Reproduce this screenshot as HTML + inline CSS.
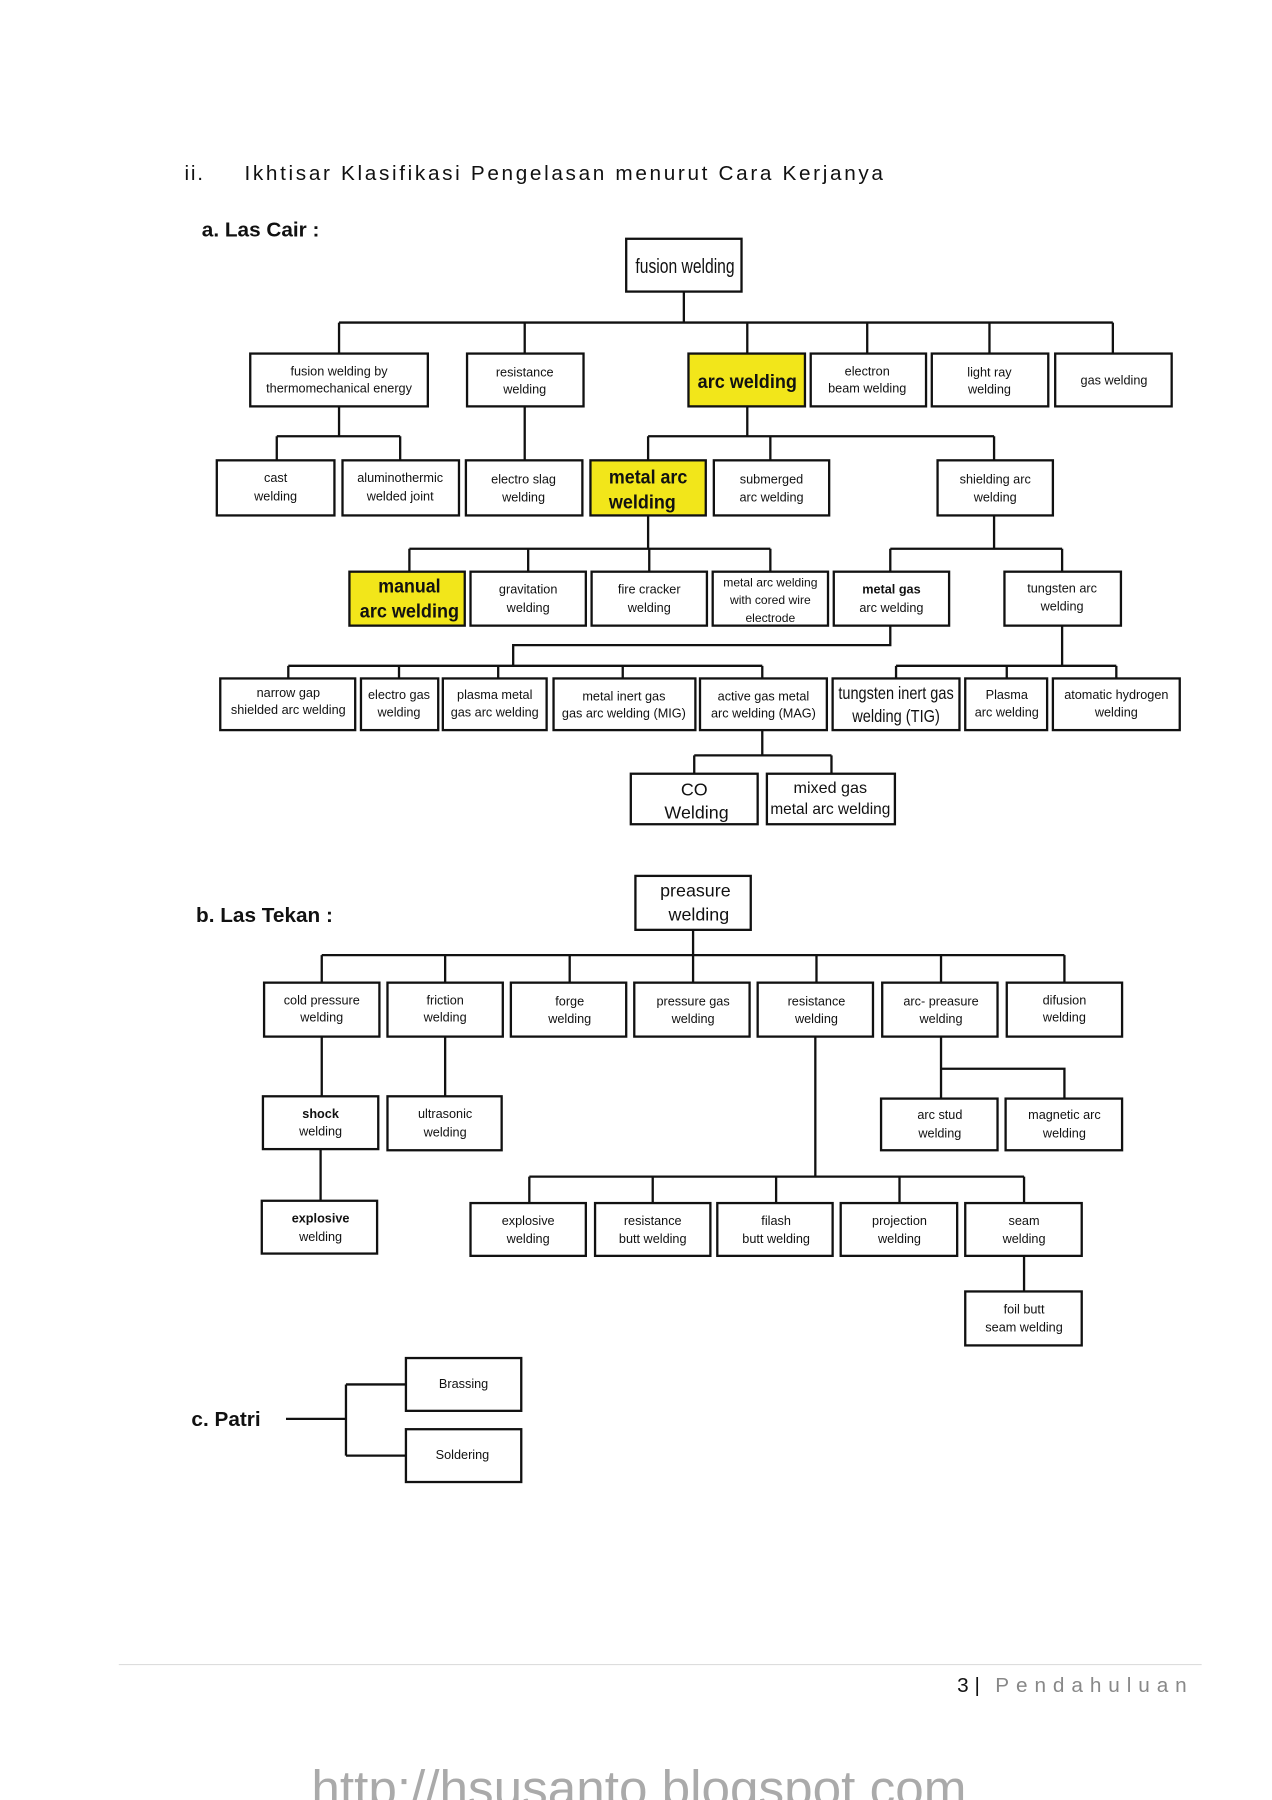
<!DOCTYPE html>
<html><head><meta charset="utf-8"><style>
html,body{margin:0;padding:0;background:#fff;}
svg{display:block;}
text{font-family:"Liberation Sans",sans-serif;fill:#111;}
.b rect{fill:#fff;stroke:#111;stroke-width:2;}
.y rect{fill:#f2e61a;}
.l{stroke:#111;stroke-width:2;fill:none;}
.t{font-size:11px;text-anchor:middle;}
.big{font-size:17px;text-anchor:middle;font-weight:bold;}
.med{font-size:15.5px;text-anchor:middle;}
</style></head><body>
<svg width="1272" height="1800" viewBox="0 0 1103 1568" preserveAspectRatio="none" xmlns="http://www.w3.org/2000/svg">
<text x="160" y="157" style="font-size:18px;letter-spacing:1.5px">ii.</text>
<text x="212" y="157" style="font-size:18px;letter-spacing:2.3px">Ikhtisar Klasifikasi Pengelasan menurut Cara Kerjanya</text>
<text x="175" y="206" style="font-size:18px;font-weight:bold">a. Las Cair :</text>

<g class="l">
<path d="M593 254V281M294 281H965M294 281V308M455 281V308M648 281V308M752 281V308M858 281V308M965 281V308"/>
<path d="M294 354V380M240 380H347M240 380V401M347 380V401M455 354V401"/>
<path d="M648 354V380M562 380H862M562 380V401M668 380V401M862 380V401"/>
<path d="M562 449V478M355 478H668M355 478V498M458 478V498M563 478V498M668 478V498"/>
<path d="M862 449V478M772 478H921M772 478V498M921 478V498"/>
<path d="M772 545V562H445V580M250 580H661M250 580V591M346 580V591M432 580V591M540 580V591M661 580V591"/>
<path d="M921 545V580M777 580H968M777 580V591M873 580V591M968 580V591"/>
<path d="M661 636V658M602 658H721M602 658V674M721 658V674"/>
</g>
<g class="b">
<rect x="543" y="208" width="100" height="46"/>
<rect x="217" y="308" width="154" height="46"/><rect x="405" y="308" width="101" height="46"/>
<g class="y"><rect x="597" y="308" width="101" height="46"/></g>
<rect x="703" y="308" width="100" height="46"/><rect x="808" y="308" width="101" height="46"/><rect x="915" y="308" width="101" height="46"/>
<rect x="188" y="401" width="102" height="48"/><rect x="297" y="401" width="101" height="48"/><rect x="404" y="401" width="101" height="48"/>
<g class="y"><rect x="512" y="401" width="100" height="48"/></g>
<rect x="619" y="401" width="100" height="48"/><rect x="813" y="401" width="100" height="48"/>
<g class="y"><rect x="303" y="498" width="100" height="47"/></g>
<rect x="408" y="498" width="100" height="47"/><rect x="513" y="498" width="100" height="47"/><rect x="618" y="498" width="100" height="47"/><rect x="723" y="498" width="100" height="47"/><rect x="871" y="498" width="101" height="47"/>
<rect x="191" y="591" width="117" height="45"/><rect x="313" y="591" width="67" height="45"/><rect x="384" y="591" width="90" height="45"/><rect x="480" y="591" width="123" height="45"/><rect x="607" y="591" width="110" height="45"/><rect x="722" y="591" width="110" height="45"/><rect x="837" y="591" width="71" height="45"/><rect x="913" y="591" width="110" height="45"/>
<rect x="547" y="674" width="110" height="44"/><rect x="665" y="674" width="111" height="44"/>
</g>
<text x="594" y="238" style="font-size:18px;text-anchor:middle" textLength="86" lengthAdjust="spacingAndGlyphs">fusion welding</text>
<text class="t" x="294" y="327">fusion welding by</text><text class="t" x="294" y="342">thermomechanical energy</text>
<text class="t" x="455" y="328">resistance</text><text class="t" x="455" y="343">welding</text>
<text class="big" x="648" y="338" textLength="86" lengthAdjust="spacingAndGlyphs">arc welding</text>
<text class="t" x="752" y="327">electron</text><text class="t" x="752" y="342">beam welding</text>
<text class="t" x="858" y="328">light ray</text><text class="t" x="858" y="343">welding</text>
<text class="t" x="966" y="335">gas welding</text>
<text class="t" x="239" y="420">cast</text><text class="t" x="239" y="436">welding</text>
<text class="t" x="347" y="420">aluminothermic</text><text class="t" x="347" y="436">welded joint</text>
<text class="t" x="454" y="421">electro slag</text><text class="t" x="454" y="437">welding</text>
<text class="big" x="562" y="421" textLength="68" lengthAdjust="spacingAndGlyphs">metal arc</text><text class="big" x="557" y="443" textLength="58" lengthAdjust="spacingAndGlyphs">welding</text>
<text class="t" x="669" y="421">submerged</text><text class="t" x="669" y="437">arc welding</text>
<text class="t" x="863" y="421">shielding arc</text><text class="t" x="863" y="437">welding</text>
<text class="big" x="355" y="516" textLength="54" lengthAdjust="spacingAndGlyphs">manual</text><text class="big" x="355" y="538" textLength="86" lengthAdjust="spacingAndGlyphs">arc welding</text>
<text class="t" x="458" y="517">gravitation</text><text class="t" x="458" y="533">welding</text>
<text class="t" x="563" y="517">fire cracker</text><text class="t" x="563" y="533">welding</text>
<text class="t" x="668" y="511" style="font-size:10.5px">metal arc welding</text><text class="t" x="668" y="526" style="font-size:10.5px">with cored wire</text><text class="t" x="668" y="542" style="font-size:10.5px">electrode</text>
<text class="t" x="773" y="517" style="font-weight:bold">metal gas</text><text class="t" x="773" y="533">arc welding</text>
<text class="t" x="921" y="516">tungsten arc</text><text class="t" x="921" y="532">welding</text>
<text class="t" x="250" y="607">narrow gap</text><text class="t" x="250" y="622">shielded arc welding</text>
<text class="t" x="346" y="609">electro gas</text><text class="t" x="346" y="624">welding</text>
<text class="t" x="429" y="609">plasma metal</text><text class="t" x="429" y="624">gas arc welding</text>
<text class="t" x="541" y="610">metal inert gas</text><text class="t" x="541" y="625">gas arc welding (MIG)</text>
<text class="t" x="662" y="610">active gas metal</text><text class="t" x="662" y="625">arc welding (MAG)</text>
<text x="777" y="609" style="font-size:15px;text-anchor:middle" textLength="100" lengthAdjust="spacingAndGlyphs">tungsten inert gas</text><text x="777" y="629" style="font-size:15px;text-anchor:middle" textLength="76" lengthAdjust="spacingAndGlyphs">welding (TIG)</text>
<text class="t" x="873" y="609">Plasma</text><text class="t" x="873" y="624">arc welding</text>
<text class="t" x="968" y="609">atomatic hydrogen</text><text class="t" x="968" y="624">welding</text>
<text class="med" x="602" y="693">CO</text><text class="med" x="604" y="713">Welding</text>
<text class="t" x="720" y="691" style="font-size:14px">mixed gas</text><text class="t" x="720" y="709" style="font-size:14px" textLength="104" lengthAdjust="spacingAndGlyphs">metal arc welding</text>

<text x="170" y="803" style="font-size:18px;font-weight:bold">b. Las Tekan :</text>
<g class="l">
<path d="M601 810V832M279 832H923M279 832V856M386 832V856M494 832V856M601 832V856M708 832V856M816 832V856M923 832V856"/>
<path d="M279 903V955M278 1001V1046M386 903V955"/>
<path d="M816 903V957M816 931H923V957"/>
<path d="M707 903V1025M459 1025H888M459 1025V1048M566 1025V1048M673 1025V1048M780 1025V1048M888 1025V1048M888 1094V1125"/>
<path d="M248 1236H300M300 1206V1268M300 1206H352M300 1268H352"/>
</g>
<g class="b">
<rect x="551" y="763" width="100" height="47"/>
<rect x="229" y="856" width="100" height="47"/><rect x="336" y="856" width="100" height="47"/><rect x="443" y="856" width="100" height="47"/><rect x="550" y="856" width="100" height="47"/><rect x="657" y="856" width="100" height="47"/><rect x="765" y="856" width="100" height="47"/><rect x="873" y="856" width="100" height="47"/>
<rect x="228" y="955" width="100" height="46"/><rect x="336" y="955" width="99" height="47"/>
<rect x="764" y="957" width="101" height="45"/><rect x="872" y="957" width="101" height="45"/>
<rect x="227" y="1046" width="100" height="46"/>
<rect x="408" y="1048" width="100" height="46"/><rect x="516" y="1048" width="100" height="46"/><rect x="622" y="1048" width="100" height="46"/><rect x="729" y="1048" width="101" height="46"/><rect x="837" y="1048" width="101" height="46"/>
<rect x="837" y="1125" width="101" height="47"/>
<rect x="352" y="1183" width="100" height="46"/><rect x="352" y="1245" width="100" height="46"/>
</g>
<text class="med" x="603" y="781">preasure</text><text class="med" x="606" y="802">welding</text>
<text class="t" x="279" y="875">cold pressure</text><text class="t" x="279" y="890">welding</text>
<text class="t" x="386" y="875">friction</text><text class="t" x="386" y="890">welding</text>
<text class="t" x="494" y="876">forge</text><text class="t" x="494" y="891">welding</text>
<text class="t" x="601" y="876">pressure gas</text><text class="t" x="601" y="891">welding</text>
<text class="t" x="708" y="876">resistance</text><text class="t" x="708" y="891">welding</text>
<text class="t" x="816" y="876">arc- preasure</text><text class="t" x="816" y="891">welding</text>
<text class="t" x="923" y="875">difusion</text><text class="t" x="923" y="890">welding</text>
<text class="t" x="278" y="974" style="font-weight:bold">shock</text><text class="t" x="278" y="989">welding</text>
<text class="t" x="386" y="974">ultrasonic</text><text class="t" x="386" y="990">welding</text>
<text class="t" x="815" y="975">arc stud</text><text class="t" x="815" y="991">welding</text>
<text class="t" x="923" y="975">magnetic arc</text><text class="t" x="923" y="991">welding</text>
<text class="t" x="278" y="1065" style="font-weight:bold">explosive</text><text class="t" x="278" y="1081">welding</text>
<text class="t" x="458" y="1067">explosive</text><text class="t" x="458" y="1083">welding</text>
<text class="t" x="566" y="1067">resistance</text><text class="t" x="566" y="1083">butt welding</text>
<text class="t" x="673" y="1067">filash</text><text class="t" x="673" y="1083">butt welding</text>
<text class="t" x="780" y="1067">projection</text><text class="t" x="780" y="1083">welding</text>
<text class="t" x="888" y="1067">seam</text><text class="t" x="888" y="1083">welding</text>
<text class="t" x="888" y="1144">foil butt</text><text class="t" x="888" y="1160">seam welding</text>

<text x="166" y="1242" style="font-size:18px;font-weight:bold">c. Patri</text>
<text class="t" x="402" y="1209">Brassing</text>
<text class="t" x="401" y="1271">Soldering</text>

<line x1="103" y1="1450" x2="1042" y2="1450" stroke="#ddd" stroke-width="1"/>
<text x="830" y="1474" style="font-size:18px">3 |</text>
<text x="863" y="1474" style="font-size:18px;letter-spacing:6px;fill:#888">Pendahuluan</text>
<text x="554" y="1573" style="font-size:44px;text-anchor:middle;fill:#aaa" textLength="568" lengthAdjust="spacingAndGlyphs">http://hsusanto.blogspot.com</text>
</svg>
</body></html>
